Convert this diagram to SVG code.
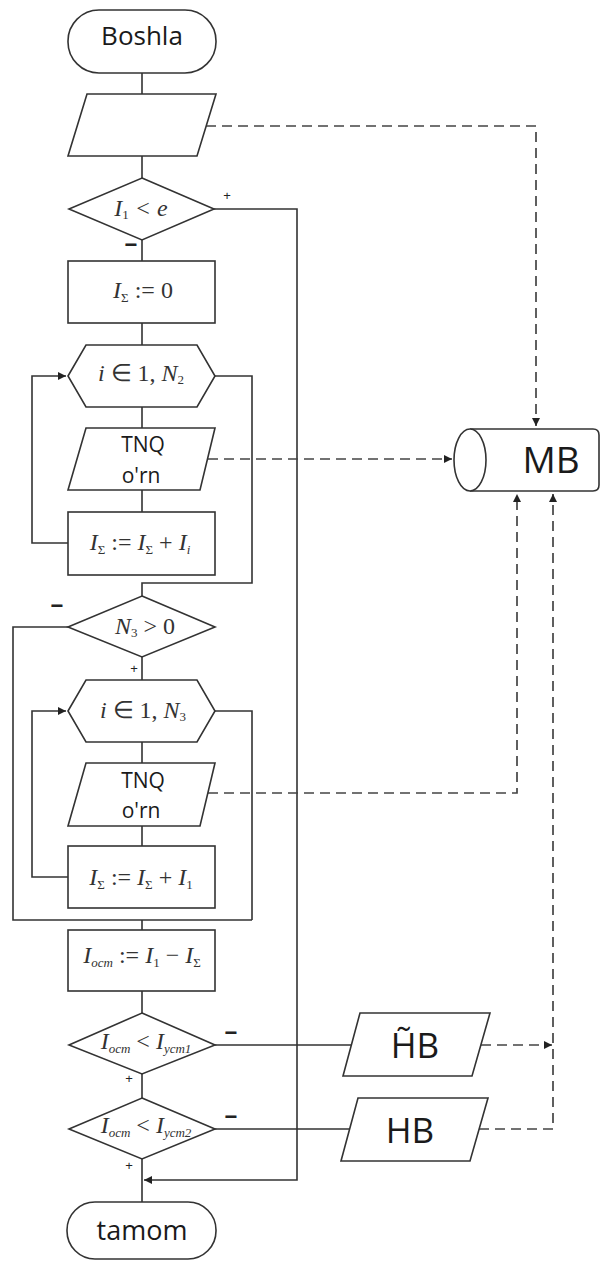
<svg xmlns="http://www.w3.org/2000/svg" width="601" height="1263" viewBox="0 0 601 1263">
<style>
.s{fill:#fff;stroke:#333;stroke-width:1.6}
.ln{fill:none;stroke:#333;stroke-width:1.6}
.d{fill:none;stroke:#444;stroke-width:1.7;stroke-dasharray:10 6}
.t{font-family:"Open Sans","Liberation Sans",sans-serif;fill:#1a1a1a;text-anchor:middle}
.m{font-family:"Liberation Serif",serif;font-style:italic;font-size:24px;fill:#333;text-anchor:middle}
.sb{font-size:13px}
.u{font-style:normal}
.pm{font-family:"Liberation Sans",sans-serif;fill:#222;text-anchor:middle}
.mi{font-weight:bold}
</style>
<defs>
<marker id="a" viewBox="0 0 10 10" refX="10" refY="5" markerWidth="9" markerHeight="8" markerUnits="userSpaceOnUse" orient="auto"><path d="M0,0L10,5L0,10z" fill="#222"/></marker>
</defs>
<rect width="601" height="1263" fill="#fff"/>
<g id="connectors">
<path class="ln" d="M142,73V94M142,156V178M142,240V261M142,323V345M142,407V428M142,490V512"/>
<path class="ln" d="M215,376H252V583H142V596"/>
<path class="ln" d="M68,543H32V376H66" marker-end="url(#a)"/>
<path class="ln" d="M142,657V680M142,742V763M142,826V846"/>
<path class="ln" d="M215,711H252V920"/>
<path class="ln" d="M68,627H13V920H252M142,920V930"/>
<path class="ln" d="M68,877H32V711H66" marker-end="url(#a)"/>
<path class="ln" d="M142,991V1013M142,1074V1098M142,1159V1202"/>
<path class="ln" d="M214,209H297V1180H144" marker-end="url(#a)"/>
<path class="ln" d="M215,1045H351M215,1129H350"/>
<path class="d" d="M206,126H536V426" marker-end="url(#a)"/>
<path class="d" d="M208,459H452" marker-end="url(#a)"/>
<path class="d" d="M208,793H517V494" marker-end="url(#a)"/>
<path class="d" d="M481,1045H552" marker-end="url(#a)"/>
<path class="d" d="M479,1129H553V494" marker-end="url(#a)"/>
</g>
<g id="start"><rect class="s" x="68" y="10" width="148" height="63" rx="31"/><text class="t" x="142" y="45" font-size="26">Boshla</text></g>
<g id="input1"><polygon class="s" points="87,94 216,94 197,156 68,156"/></g>
<g id="dec1"><polygon class="s" points="142,178 214,209 142,240 69,209"/>
<text class="m" x="141" y="216">I<tspan class="sb u" dy="3">1</tspan><tspan dy="-3"> &lt; e</tspan></text></g>
<g id="init"><rect class="s" x="68" y="261" width="147" height="62"/>
<text class="m" x="143" y="298">I<tspan class="sb u" dy="4">Σ</tspan><tspan class="u" dy="-4"> := 0</tspan></text></g>
<g id="loop1"><polygon class="s" points="68,376 86,345 197,345 215,376 197,407 86,407"/>
<text class="m" x="141" y="381" font-size="21">i <tspan class="u">∈ 1,</tspan> N<tspan class="sb u" dy="3">2</tspan></text></g>
<g id="tnq1"><polygon class="s" points="86,428 215,428 200,490 68,490"/>
<text class="t" x="143" y="452" font-size="21">TNQ</text><text class="t" x="141" y="483" font-size="21">o'rn</text></g>
<g id="sum1"><rect class="s" x="68" y="512" width="147" height="63"/>
<text class="m" x="140" y="550">I<tspan class="sb u" dy="4">Σ</tspan><tspan class="u" dy="-4"> := </tspan>I<tspan class="sb u" dy="4">Σ</tspan><tspan class="u" dy="-4"> + </tspan>I<tspan class="sb" dy="4">i</tspan></text></g>
<g id="dec2"><polygon class="s" points="142,596 215,627 142,657 68,627"/>
<text class="m" x="145" y="634">N<tspan class="sb u" dy="3">3</tspan><tspan class="u" dy="-3"> &gt; 0</tspan></text></g>
<g id="loop2"><polygon class="s" points="68,711 86,680 197,680 215,711 197,742 86,742"/>
<text class="m" x="143" y="718" font-size="23">i <tspan class="u">∈ 1,</tspan> N<tspan class="sb u" dy="3">3</tspan></text></g>
<g id="tnq2"><polygon class="s" points="86,763 215,763 200,826 68,826"/>
<text class="t" x="143" y="788" font-size="21">TNQ</text><text class="t" x="141" y="818" font-size="21">o'rn</text></g>
<g id="sum2"><rect class="s" x="68" y="846" width="147" height="62"/>
<text class="m" x="141" y="885">I<tspan class="sb u" dy="4">Σ</tspan><tspan class="u" dy="-4"> := </tspan>I<tspan class="sb u" dy="4">Σ</tspan><tspan class="u" dy="-4"> + </tspan>I<tspan class="sb u" dy="4">1</tspan></text></g>
<g id="ost"><rect class="s" x="68" y="930" width="147" height="61"/>
<text class="m" x="142" y="963">I<tspan class="sb" dy="4">ост</tspan><tspan class="u" dy="-4"> := </tspan>I<tspan class="sb u" dy="4">1</tspan><tspan class="u" dy="-4"> − </tspan>I<tspan class="sb u" dy="4">Σ</tspan></text></g>
<g id="dec3"><polygon class="s" points="142,1013 215,1045 142,1074 69,1045"/>
<text class="m" x="146" y="1049">I<tspan class="sb" dy="4">ост</tspan><tspan class="u" dy="-4"> &lt; </tspan>I<tspan class="sb" dy="4">уст1</tspan></text></g>
<g id="dec4"><polygon class="s" points="142,1098 215,1129 142,1159 69,1129"/>
<text class="m" x="146" y="1133">I<tspan class="sb" dy="4">ост</tspan><tspan class="u" dy="-4"> &lt; </tspan>I<tspan class="sb" dy="4">уст2</tspan></text></g>
<g id="end"><rect class="s" x="67" y="1202" width="149" height="57" rx="28"/><text class="t" x="142" y="1240" font-size="27">tamom</text></g>
<g id="mb"><path class="s" d="M470,429H593Q599,429 599,435V485Q599,491 593,491H470"/><ellipse class="s" cx="470" cy="460" rx="16" ry="31"/>
<text class="t" x="551" y="473" font-size="37">MB</text></g>
<g id="hb1"><polygon class="s" points="360,1013 490,1013 472,1076 343,1076"/><text class="t" x="415" y="1058" font-size="35">H̃B</text></g>
<g id="hb2"><polygon class="s" points="358,1098 488,1098 470,1161 341,1161"/><text class="t" x="410" y="1143" font-size="35">HB</text></g>
<g id="labels">
<text class="pm" x="227" y="200" font-size="13">+</text>
<text class="pm mi" x="131" y="252" font-size="22">−</text>
<text class="pm mi" x="57" y="613" font-size="22">−</text>
<text class="pm" x="134" y="673" font-size="13">+</text>
<text class="pm mi" x="231" y="1040" font-size="22">−</text>
<text class="pm" x="129" y="1083" font-size="13">+</text>
<text class="pm mi" x="231" y="1124" font-size="22">−</text>
<text class="pm" x="129" y="1170" font-size="13">+</text>
</g>
</svg>
